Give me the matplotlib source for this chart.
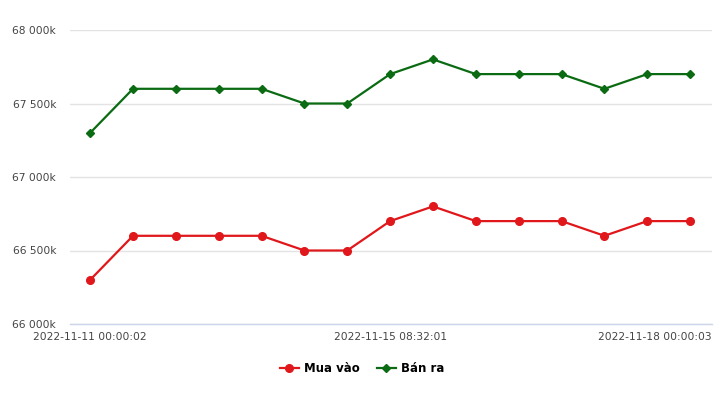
import matplotlib
matplotlib.use("Agg")
import matplotlib.pyplot as plt
import matplotlib.transforms as mtransforms
from matplotlib.ticker import FuncFormatter

dates = ["2022-11-11 00:00:02", "", "", "", "", "", "", "2022-11-15 08:32:01",
         "", "", "", "", "", "", "2022-11-18 00:00:03"]
mua_vao = [66300, 66600, 66600, 66600, 66600, 66500, 66500, 66700, 66800,
           66700, 66700, 66700, 66600, 66700, 66700]
ban_ra = [67300, 67600, 67600, 67600, 67600, 67500, 67500, 67700, 67800,
          67700, 67700, 67700, 67600, 67700, 67700]
y_ticks = [66000, 66500, 67000, 67500, 68000]

fig = plt.figure(figsize=(7.2, 3.95), dpi=100)
ax = fig.add_axes([70/720, 1-324/395, 642/720, 294/395])

x = list(range(len(dates)))
ax.plot(x, mua_vao, color="#e0171b", lw=1.6, marker="o", ms=5.5, label="Mua vào", zorder=3)
ax.plot(x, ban_ra, color="#0a6b12", lw=1.6, marker="D", ms=4, label="Bán ra", zorder=3)

ax.set_xlim(-0.47, 14.51)
ax.set_ylim(66000, 68000)
ax.set_yticks(y_ticks)
ax.yaxis.set_major_formatter(FuncFormatter(lambda v, p: f"{int(v):,}".replace(",", " ") + "k"))
ax.grid(axis="y", color="#e3e3e3", lw=1)
ax.set_axisbelow(True)
for s in ["top", "right", "left"]:
    ax.spines[s].set_visible(False)
ax.spines["bottom"].set_color("#ccd6eb")
ax.spines["bottom"].set_linewidth(1)
ax.tick_params(axis="y", length=0, pad=10, labelsize=7.7, labelcolor="#444444")
ax.tick_params(axis="x", length=0, pad=6, labelsize=7.7, labelcolor="#444444")

idx = [i for i, d in enumerate(dates) if d]
ax.set_xticks(idx)
ax.set_xticklabels([dates[i] for i in idx])
last = ax.get_xticklabels()[-1]
last.set_horizontalalignment("right")
last.set_transform(last.get_transform() + mtransforms.ScaledTranslation(21/100, 0, fig.dpi_scale_trans))

leg = fig.legend(loc="center", bbox_to_anchor=(362/720, 1-369/395), ncol=2, frameon=False,
                 prop={"size": 8.5, "weight": "bold"}, handlelength=1.6, columnspacing=1.5,
                 handletextpad=0.4)

fig.savefig("out.png", dpi=100)
